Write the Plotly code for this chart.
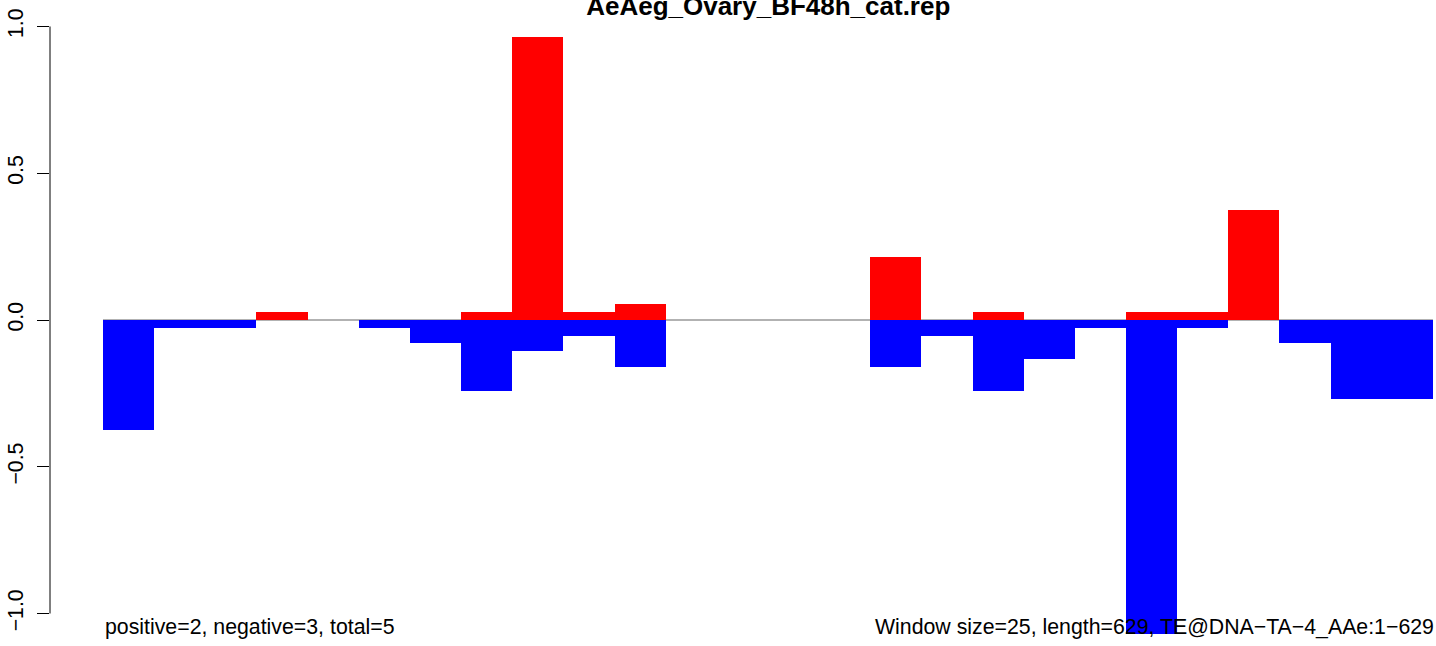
import plotly.graph_objects as go

# ---- data ----
window = 25
seq_length = 629
chart_title = "AeAeg_Ovary_BF48h_cat.rep"
pos_vals = [0, 0, 0, 0.027, 0, 0, 0, 0.027, 0.964, 0.027, 0.054, 0, 0,
            0, 0, 0.214, 0, 0.027, 0, 0, 0.027, 0.027, 0.375, 0, 0, 0]
neg_vals = [-0.375, -0.027, -0.027, 0, 0, -0.027, -0.080, -0.241, -0.107,
            -0.054, -0.161, 0, 0, 0, 0, -0.161, -0.054, -0.241, -0.134,
            -0.027, -1.071, -0.027, 0, -0.080, -0.268, -0.268]
ytick_vals = [-1.0, -0.5, 0.0, 0.5, 1.0]
ytick_text = ["\u22121.0", "\u22120.5", "0.0", "0.5", "1.0"]
left_note = "positive=2, negative=3, total=5"
right_note = "Window size=25, length=629, TE@DNA\u2212TA\u22124_AAe:1\u2212629"

n_bins = len(pos_vals)
starts = [i * window for i in range(n_bins)]
x_end = n_bins * window

FONT = "Liberation Sans, Arial, sans-serif"

fig = go.Figure()
fig.add_trace(go.Bar(x=starts, y=pos_vals, width=window, offset=0,
                     marker=dict(color="#FF0000", line=dict(width=0)),
                     hoverinfo="skip"))
fig.add_trace(go.Bar(x=starts, y=neg_vals, width=window, offset=0,
                     marker=dict(color="#0000FF", line=dict(width=0)),
                     hoverinfo="skip"))

# baseline at zero (under bars)
fig.add_shape(type="line", xref="x", yref="y", x0=0, x1=x_end, y0=0, y1=0,
              line=dict(color="#999999", width=1.6), layer="below")
# y axis line spanning the tick range only
fig.add_shape(type="line", xref="paper", yref="y", x0=0, x1=0,
              y0=min(ytick_vals), y1=max(ytick_vals),
              line=dict(color="black", width=1), layer="above")

fig.add_annotation(text=left_note, xref="x", yref="y", x=0, y=-1.045,
                   xanchor="left", yanchor="middle", showarrow=False,
                   font=dict(family=FONT, size=21.3, color="black"))
fig.add_annotation(text=right_note, xref="x", yref="y", x=x_end + 1.5,
                   y=-1.045, xanchor="right", yanchor="middle",
                   showarrow=False,
                   font=dict(family=FONT, size=21.3, color="black"))

fig.update_layout(
    width=1436, height=646,
    margin=dict(l=50, r=0, t=3, b=9, pad=0, autoexpand=False),
    paper_bgcolor="white", plot_bgcolor="white",
    barmode="overlay", bargap=0, showlegend=False,
    title=dict(text="<b>" + chart_title + "</b>", xref="container",
               yref="container", x=0.535, y=0.9915, xanchor="center",
               yanchor="middle",
               font=dict(family=FONT, size=26, color="black")),
    xaxis=dict(range=[-25.9, 651.5], visible=False, showgrid=False,
               zeroline=False, fixedrange=True),
    yaxis=dict(range=[-1.08, 1.08], tickvals=ytick_vals, ticktext=ytick_text,
               tickangle=-90, ticks="outside", ticklen=12, tickwidth=1,
               tickcolor="black", showgrid=False, zeroline=False,
               showline=False, automargin=False, ticklabelstandoff=5,
               tickfont=dict(family=FONT, size=21.3, color="black")),
    font=dict(family=FONT, color="black"),
)

fig.write_html("out.html", config={"displayModeBar": False},
               post_script="document.body.style.margin='0';")
